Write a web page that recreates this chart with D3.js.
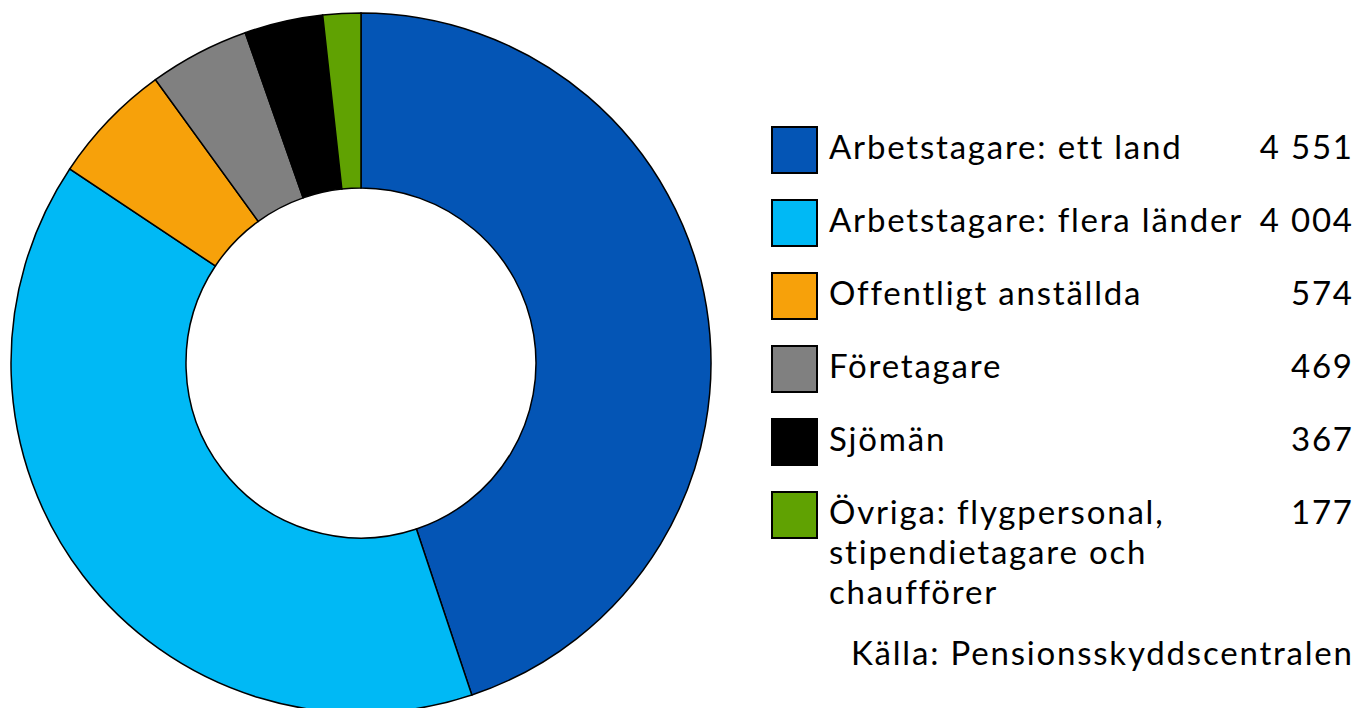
<!DOCTYPE html>
<html><head><meta charset="utf-8">
<script src="https://cdn.jsdelivr.net/npm/d3@7"></script>
<style>body{margin:0;background:#fff}svg{display:block}</style>
</head><body>
<svg id="c" width="1358" height="708"></svg>
<script>
const categories = ["Arbetstagare: ett land","Arbetstagare: flera länder","Offentligt anställda","Företagare","Sjömän","Övriga: flygpersonal, stipendietagare och chaufförer"];
const labelLines = [["Arbetstagare: ett land"],["Arbetstagare: flera länder"],["Offentligt anställda"],["Företagare"],["Sjömän"],["Övriga: flygpersonal,","stipendietagare och","chaufförer"]];
const values = [4551,4004,574,469,367,177];
const valueLabels = ["4 551","4 004","574","469","367","177"];
const colors = ["#0455B5","#00B9F5","#F7A10A","#808080","#000000","#60A202"];
const source = "Källa: Pensionsskyddscentralen";

const svg = d3.select("#c");
const font = "Lato, 'Open Sans', sans-serif";
const cx = 361, cy = 363, R = 350, r = 175;
const pie = d3.pie().sort(null).value(d=>d);
const arc = d3.arc().innerRadius(r).outerRadius(R);
svg.append("g").attr("transform",`translate(${cx},${cy})`)
  .selectAll("path").data(pie(values)).join("path")
  .attr("d",arc).attr("fill",(d,i)=>colors[i]).attr("stroke","#000").attr("stroke-width",1.5);

const fs = 33, ls = 1.8, xr = 1352 + ls;
const leg = svg.append("g");
const rowY = d3.scalePoint().domain(d3.range(categories.length)).range([127,492]);
categories.forEach((c,i)=>{
  const y = rowY(i);
  leg.append("rect").attr("x",772).attr("y",y).attr("width",45).attr("height",46)
    .attr("fill",colors[i]).attr("stroke","#000").attr("stroke-width",2);
  const t = leg.append("text").attr("x",829).attr("y",y+32).attr("font-family",font).attr("font-size",fs).attr("letter-spacing",ls).attr("fill","#000");
  labelLines[i].forEach((l,j)=>t.append("tspan").attr("x",829).attr("dy",j?40:0).text(l));
  leg.append("text").attr("x",xr).attr("y",y+32).attr("text-anchor","end").attr("font-family",font).attr("font-size",fs).attr("letter-spacing",ls).text(valueLabels[i]);
});
svg.append("text").attr("x",xr).attr("y",665).attr("text-anchor","end").attr("font-family",font).attr("font-size",fs).attr("letter-spacing",ls).text(source);
</script>
</body></html>
